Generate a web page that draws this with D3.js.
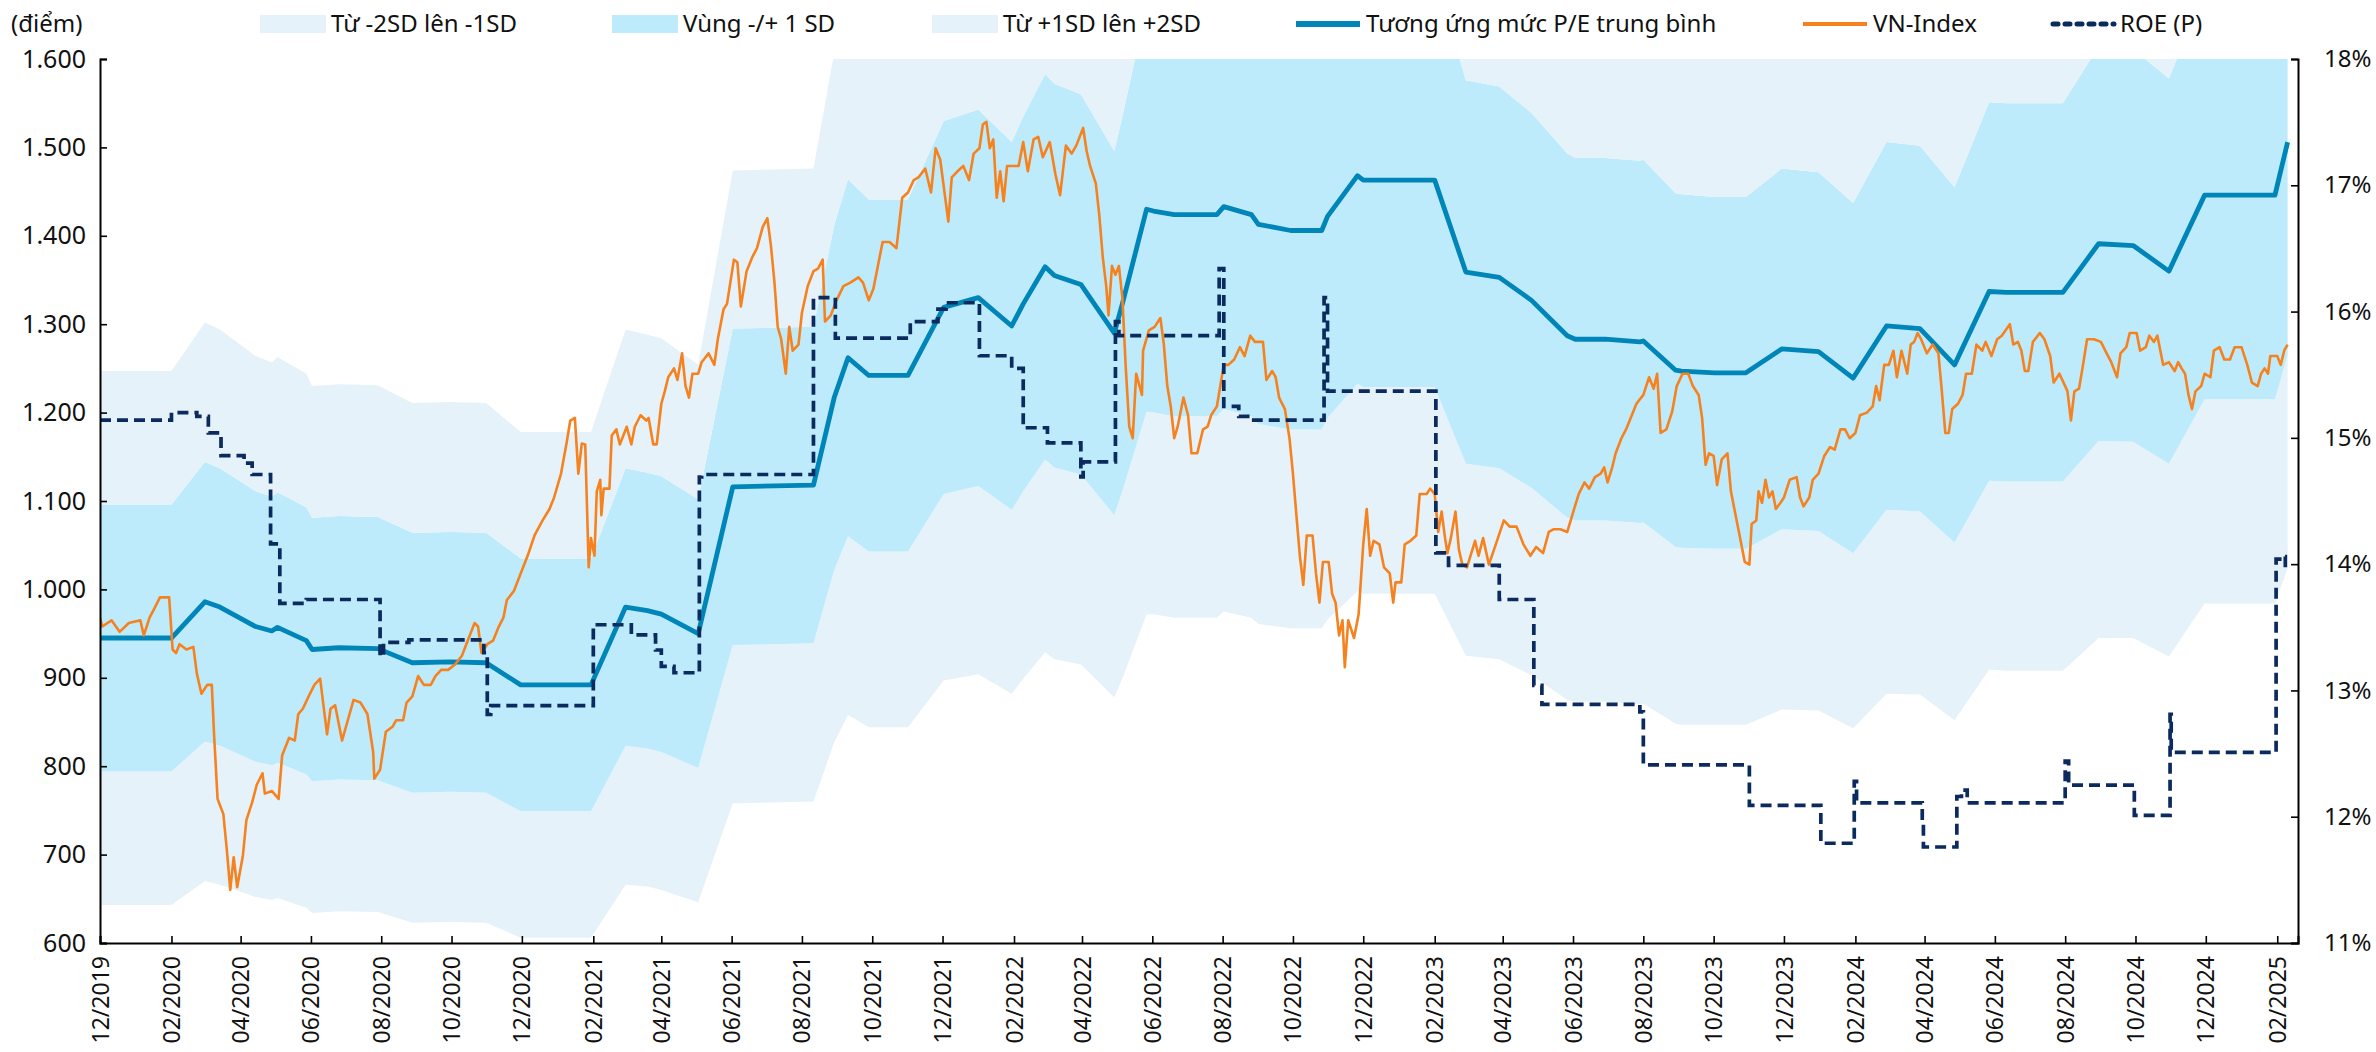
<!DOCTYPE html>
<html>
<head>
<meta charset="utf-8">
<script src="https://cdn.jsdelivr.net/npm/d3@7"></script>
<style>
  body { margin: 0; background: #fff; }
  svg { display: block; font-family: "Noto Sans", sans-serif; }
</style>
</head>
<body>
<svg id="chart" width="2376" height="1052"></svg>
<script>
// VN-Index (daily at ~weekly resolution)
var vnIndex = [
["2019-12-01",968],["2019-12-03",958],["2019-12-11",965],["2019-12-18",952],["2019-12-26",962],
["2020-01-05",965],["2020-01-08",948],["2020-01-13",968],["2020-01-17",978],["2020-01-22",991],["2020-01-30",991],
["2020-02-02",932],["2020-02-05",928],["2020-02-08",938],["2020-02-14",932],["2020-02-20",935],["2020-02-23",905],["2020-02-27",882],
["2020-03-03",892],["2020-03-07",892],["2020-03-09",835],["2020-03-12",763],["2020-03-17",746],["2020-03-20",706],["2020-03-23",660],["2020-03-26",697],["2020-03-29",663],
["2020-04-03",699],["2020-04-06",739],["2020-04-11",759],["2020-04-15",779],["2020-04-20",792],["2020-04-22",769],["2020-04-28",772],
["2020-05-04",763],["2020-05-07",812],["2020-05-13",832],["2020-05-18",829],["2020-05-21",859],["2020-05-25",865],["2020-05-30",879],
["2020-06-04",892],["2020-06-09",899],["2020-06-15",836],["2020-06-18",865],["2020-06-22",869],["2020-06-28",829],
["2020-07-03",852],["2020-07-08",875],["2020-07-14",872],["2020-07-20",859],["2020-07-25",816],["2020-07-26",786],["2020-07-31",796],
["2020-08-05",839],["2020-08-11",845],["2020-08-14",852],["2020-08-20",852],["2020-08-23",872],["2020-08-28",879],
["2020-09-02",902],["2020-09-07",892],["2020-09-13",892],["2020-09-17",902],["2020-09-22",909],["2020-09-28",909],
["2020-10-04",915],["2020-10-10",925],["2020-10-15",942],["2020-10-21",962],["2020-10-24",958],["2020-10-27",928],
["2020-11-01",938],["2020-11-06",942],["2020-11-11",958],["2020-11-15",968],["2020-11-18",988],["2020-11-24",998],["2020-11-30",1018],
["2020-12-06",1038],["2020-12-12",1061],["2020-12-19",1078],["2020-12-25",1091],["2020-12-29",1104],
["2021-01-04",1131],["2021-01-09",1167],["2021-01-12",1191],["2021-01-16",1194],["2021-01-19",1131],["2021-01-22",1165],["2021-01-25",1164],["2021-01-28",1025],["2021-01-30",1058],
["2021-02-02",1038],["2021-02-04",1111],["2021-02-07",1124],["2021-02-08",1084],["2021-02-10",1114],["2021-02-15",1114],["2021-02-17",1174],["2021-02-21",1181],["2021-02-24",1164],
["2021-03-02",1184],["2021-03-06",1164],["2021-03-09",1184],["2021-03-14",1197],["2021-03-19",1191],["2021-03-21",1194],["2021-03-25",1164],["2021-03-28",1164],
["2021-04-01",1210],["2021-04-04",1224],["2021-04-07",1240],["2021-04-12",1250],["2021-04-15",1237],["2021-04-19",1267],["2021-04-22",1230],["2021-04-25",1217],["2021-04-28",1244],
["2021-05-03",1244],["2021-05-06",1257],["2021-05-12",1267],["2021-05-17",1254],["2021-05-20",1283],["2021-05-25",1317],["2021-05-28",1323],
["2021-06-03",1373],["2021-06-06",1370],["2021-06-09",1320],["2021-06-14",1360],["2021-06-19",1376],["2021-06-23",1386],["2021-06-28",1410],
["2021-07-02",1420],["2021-07-05",1390],["2021-07-08",1350],["2021-07-11",1297],["2021-07-14",1283],["2021-07-18",1244],["2021-07-21",1297],["2021-07-24",1270],["2021-07-29",1277],
["2021-08-01",1313],["2021-08-06",1343],["2021-08-11",1360],["2021-08-15",1363],["2021-08-19",1373],["2021-08-21",1303],["2021-08-26",1310],["2021-08-31",1327],
["2021-09-06",1343],["2021-09-12",1347],["2021-09-19",1353],["2021-09-23",1347],["2021-09-28",1327],
["2021-10-02",1340],["2021-10-05",1360],["2021-10-10",1393],["2021-10-16",1393],["2021-10-22",1386],["2021-10-27",1443],
["2021-11-01",1449],["2021-11-06",1463],["2021-11-10",1466],["2021-11-16",1476],["2021-11-21",1449],["2021-11-25",1499],["2021-11-29",1486],
["2021-12-03",1446],["2021-12-06",1416],["2021-12-09",1466],["2021-12-14",1473],["2021-12-19",1479],["2021-12-24",1463],["2021-12-28",1493],
["2022-01-02",1499],["2022-01-05",1526],["2022-01-08",1529],["2022-01-11",1499],["2022-01-14",1509],["2022-01-17",1443],["2022-01-20",1473],["2022-01-23",1439],["2022-01-26",1479],
["2022-02-05",1479],["2022-02-09",1506],["2022-02-13",1473],["2022-02-18",1509],["2022-02-22",1512],["2022-02-26",1489],
["2022-03-04",1506],["2022-03-09",1469],["2022-03-13",1446],["2022-03-18",1502],["2022-03-23",1493],["2022-03-27",1502],
["2022-04-02",1522],["2022-04-05",1496],["2022-04-08",1479],["2022-04-13",1459],["2022-04-16",1423],["2022-04-19",1376],["2022-04-22",1343],["2022-04-24",1310],["2022-04-27",1366],["2022-04-30",1356],
["2022-05-03",1366],["2022-05-06",1330],["2022-05-09",1250],["2022-05-12",1184],["2022-05-15",1171],["2022-05-18",1244],["2022-05-23",1220],["2022-05-24",1270],["2022-05-29",1293],
["2022-06-03",1297],["2022-06-08",1307],["2022-06-11",1277],["2022-06-14",1230],["2022-06-17",1207],["2022-06-20",1171],["2022-06-23",1184],["2022-06-28",1217],
["2022-07-02",1197],["2022-07-05",1154],["2022-07-10",1154],["2022-07-15",1181],["2022-07-19",1184],["2022-07-22",1197],["2022-07-27",1207],
["2022-08-02",1254],["2022-08-06",1254],["2022-08-11",1260],["2022-08-16",1274],["2022-08-20",1264],["2022-08-25",1287],["2022-08-29",1280],
["2022-09-05",1280],["2022-09-08",1237],["2022-09-13",1247],["2022-09-16",1240],["2022-09-19",1217],["2022-09-24",1204],["2022-09-28",1171],
["2022-10-01",1131],["2022-10-04",1084],["2022-10-07",1038],["2022-10-10",1005],["2022-10-13",1061],["2022-10-18",1061],["2022-10-21",1018],["2022-10-24",985],["2022-10-27",1031],
["2022-11-01",1031],["2022-11-04",995],["2022-11-07",985],["2022-11-10",948],["2022-11-13",965],["2022-11-15",912],["2022-11-18",965],["2022-11-23",945],["2022-11-27",972],
["2022-12-01",1051],["2022-12-04",1091],["2022-12-07",1038],["2022-12-10",1055],["2022-12-15",1051],["2022-12-19",1025],["2022-12-24",1018],["2022-12-27",985],["2022-12-29",1008],
["2023-01-03",1008],["2023-01-06",1051],["2023-01-11",1055],["2023-01-16",1061],["2023-01-19",1108],["2023-01-25",1108],["2023-01-28",1114],
["2023-02-01",1108],["2023-02-04",1065],["2023-02-07",1088],["2023-02-10",1058],["2023-02-12",1041],["2023-02-15",1058],["2023-02-19",1088],["2023-02-22",1045],["2023-02-25",1028],
["2023-03-01",1025],["2023-03-08",1055],["2023-03-11",1038],["2023-03-15",1058],["2023-03-20",1028],["2023-03-26",1051],
["2023-04-02",1078],["2023-04-07",1071],["2023-04-13",1071],["2023-04-19",1051],["2023-04-25",1038],["2023-04-30",1048],
["2023-05-06",1041],["2023-05-11",1065],["2023-05-15",1068],["2023-05-21",1068],["2023-05-27",1065],
["2023-06-02",1091],["2023-06-06",1108],["2023-06-11",1121],["2023-06-15",1114],["2023-06-20",1127],["2023-06-25",1131],["2023-06-28",1138],
["2023-07-01",1121],["2023-07-05",1138],["2023-07-08",1154],["2023-07-13",1171],["2023-07-17",1181],["2023-07-22",1197],["2023-07-26",1210],
["2023-08-01",1220],["2023-08-06",1240],["2023-08-10",1227],["2023-08-13",1244],["2023-08-16",1177],["2023-08-21",1181],["2023-08-26",1201],["2023-08-30",1230],
["2023-09-04",1244],["2023-09-09",1244],["2023-09-13",1230],["2023-09-18",1220],["2023-09-21",1194],["2023-09-24",1141],["2023-09-27",1154],
["2023-10-01",1151],["2023-10-04",1118],["2023-10-08",1147],["2023-10-13",1154],["2023-10-16",1111],["2023-10-19",1091],["2023-10-24",1058],["2023-10-28",1031],
["2023-11-01",1028],["2023-11-03",1074],["2023-11-07",1078],["2023-11-09",1111],["2023-11-12",1098],["2023-11-15",1124],["2023-11-18",1104],["2023-11-21",1111],["2023-11-24",1091],["2023-11-28",1098],
["2023-12-01",1104],["2023-12-06",1124],["2023-12-12",1127],["2023-12-15",1104],["2023-12-18",1094],["2023-12-23",1104],["2023-12-26",1124],["2023-12-31",1131],
["2024-01-05",1151],["2024-01-10",1161],["2024-01-14",1158],["2024-01-19",1181],["2024-01-23",1181],["2024-01-27",1171],
["2024-02-01",1177],["2024-02-05",1197],["2024-02-11",1200],["2024-02-16",1207],["2024-02-19",1230],["2024-02-22",1214],["2024-02-26",1254],
["2024-03-01",1254],["2024-03-05",1270],["2024-03-08",1240],["2024-03-12",1270],["2024-03-17",1244],["2024-03-20",1277],["2024-03-23",1280],["2024-03-26",1290],["2024-03-29",1283],
["2024-04-03",1267],["2024-04-08",1277],["2024-04-13",1267],["2024-04-16",1224],["2024-04-19",1177],["2024-04-22",1177],["2024-04-25",1204],["2024-04-30",1210],
["2024-05-04",1220],["2024-05-07",1244],["2024-05-12",1244],["2024-05-16",1277],["2024-05-21",1270],["2024-05-24",1280],["2024-05-29",1264],
["2024-06-03",1283],["2024-06-07",1287],["2024-06-14",1300],["2024-06-17",1277],["2024-06-21",1280],["2024-06-24",1270],["2024-06-27",1247],["2024-06-30",1247],
["2024-07-04",1280],["2024-07-10",1290],["2024-07-14",1283],["2024-07-19",1264],["2024-07-22",1234],["2024-07-27",1244],
["2024-08-01",1230],["2024-08-03",1224],["2024-08-06",1191],["2024-08-09",1224],["2024-08-13",1227],["2024-08-16",1250],["2024-08-20",1283],["2024-08-26",1283],
["2024-09-01",1280],["2024-09-06",1267],["2024-09-10",1257],["2024-09-15",1240],["2024-09-18",1267],["2024-09-23",1274],["2024-09-26",1290],
["2024-10-02",1290],["2024-10-05",1270],["2024-10-10",1274],["2024-10-13",1287],["2024-10-17",1280],["2024-10-20",1287],["2024-10-25",1254],["2024-10-30",1257],
["2024-11-04",1247],["2024-11-07",1257],["2024-11-10",1250],["2024-11-13",1244],["2024-11-16",1220],["2024-11-19",1204],["2024-11-22",1224],["2024-11-27",1230],["2024-11-30",1244],
["2024-12-05",1240],["2024-12-08",1270],["2024-12-13",1274],["2024-12-17",1260],["2024-12-22",1260],["2024-12-26",1274],
["2025-01-01",1274],["2025-01-06",1254],["2025-01-10",1234],["2025-01-15",1230],["2025-01-18",1244],["2025-01-21",1250],["2025-01-24",1244],["2025-01-26",1264],
["2025-02-01",1264],["2025-02-04",1254],["2025-02-07",1270],["2025-02-10",1277]
];

// index level matching the average P/E, and one standard deviation, at each node
var peDates = ["2019-12-01","2020-02-01","2020-03-01","2020-03-14","2020-04-14","2020-04-28","2020-05-03","2020-05-28","2020-06-02","2020-06-25","2020-07-29","2020-08-28","2020-09-30","2020-10-31","2020-11-30",
  "2021-01-30","2021-03-01","2021-03-20","2021-04-01","2021-05-03","2021-06-02","2021-08-11","2021-08-29","2021-09-10","2021-09-28","2021-11-01","2021-12-02",
  "2022-01-01","2022-01-30","2022-02-09","2022-02-28","2022-03-08","2022-03-31","2022-04-29","2022-05-06","2022-05-27","2022-06-02","2022-06-20","2022-07-27","2022-08-02","2022-08-26","2022-09-01","2022-09-29","2022-10-26","2022-10-31","2022-11-26","2022-12-01",
  "2023-02-01","2023-02-28","2023-03-29","2023-04-26","2023-05-27","2023-06-03","2023-06-29","2023-07-29","2023-08-01","2023-08-29","2023-09-03","2023-10-02","2023-10-29","2023-11-29","2023-12-31",
  "2024-01-30","2024-02-28","2024-03-28","2024-04-27","2024-05-27","2024-06-11","2024-07-30","2024-08-30","2024-09-29","2024-10-30","2024-11-30","2025-01-30","2025-02-10"];
var peMean = [945,945,986,980,958,953,957,942,932,934,933,917,918,917,892,
  892,980,976,972,950,1116,1118,1217,1262,1242,1242,1319,
  1330,1298,1323,1365,1355,1345,1290,1323,1430,1428,1424,1424,1433,1424,1413,1406,1406,1422,1468,1463,
  1463,1359,1353,1327,1287,1283,1283,1280,1281,1248,1247,1245,1245,1272,1269,
  1239,1298,1295,1254,1337,1336,1336,1391,1389,1360,1446,1446,1506];
var peSd = [151,151,158,157,153,152,153,151,149,149,149,147,147,147,143,
  143,157,156,156,152,179,179,195,202,199,199,211,
  213,208,212,218,217,215,206,212,229,228,228,228,229,228,226,225,225,228,235,234,
  234,217,216,212,206,205,205,205,205,200,200,199,199,204,203,
  198,208,207,201,214,214,214,223,222,218,231,231,241];

// ROE (P), % - change points, each value holds until the next date
var roeDates = ["2019-12-01","2020-02-01","2020-02-23","2020-03-04","2020-03-15","2020-04-04","2020-04-11","2020-04-27","2020-05-05","2020-05-28","2020-07-31","2020-08-03","2020-08-25","2020-10-29","2020-11-01","2020-11-04",
  "2021-02-01","2021-03-06","2021-03-27","2021-04-01","2021-04-12","2021-05-04","2021-05-06","2021-08-11","2021-08-30","2021-11-03","2021-11-27","2021-12-04",
  "2022-01-02","2022-01-30","2022-02-09","2022-03-02","2022-03-31","2022-04-02","2022-04-30","2022-05-03","2022-07-29","2022-08-02","2022-08-15","2022-08-28","2022-10-28","2022-10-31",
  "2023-02-02","2023-02-13","2023-03-29","2023-04-28","2023-05-05","2023-07-29","2023-08-01","2023-11-01",
  "2024-01-02","2024-01-31","2024-02-02","2024-03-30","2024-03-31","2024-04-29","2024-05-03","2024-05-08","2024-08-01","2024-08-04","2024-09-30","2024-10-31","2024-11-01",
  "2025-01-31","2025-02-05","2025-02-08","2025-02-10"];
var roeValues = [15.14,15.20,15.17,15.04,14.86,14.80,14.71,14.16,13.69,13.72,13.27,13.38,13.40,13.30,12.81,12.88,
  13.52,13.44,13.32,13.19,13.14,14.69,14.71,16.11,15.79,15.92,16.02,16.07,
  15.65,15.55,15.08,14.96,14.69,14.81,15.92,15.81,16.34,15.25,15.17,15.14,16.11,15.37,
  14.09,13.99,13.72,13.04,12.89,12.83,12.41,12.09,
  11.79,12.28,12.11,11.97,11.76,12.16,12.21,12.11,12.44,12.25,12.01,12.81,12.51,
  14.04,14.06,13.95,13.95];

var leftTicks = [600,700,800,900,1000,1100,1200,1300,1400,1500,1600];
var rightTicks = [11,12,13,14,15,16,17,18];
var legendLabels = ["Từ -2SD lên -1SD","Vùng -/+ 1 SD","Từ +1SD lên +2SD","Tương ứng mức P/E trung bình","VN-Index","ROE (P)"];

var lightBand = "#E6F2F9";
var midBand = "#BDEBFC";
var meanColor = "#0085B9";
var vnColor = "#F5821F";
var roeColor = "#0B2A5E";

var parse = d3.timeParse("%Y-%m-%d");
var plotL = 100, plotR = 2298, plotT = 59, plotB = 943;

var svg = d3.select("#chart");

var x = d3.scaleTime().domain([parse("2019-12-01"), parse("2025-02-19")]).range([plotL, plotR]);
var yL = d3.scaleLinear().domain([600, 1600]).range([plotB, plotT]);
var yR = d3.scaleLinear().domain([11, 18]).range([plotB, plotT]);

var pe = peDates.map(function(d, i){
  return {date: parse(d), mean: peMean[i], sd: peSd[i]};
});
var vn = vnIndex.map(function(d){ return {date: parse(d[0]), v: d[1]}; });
var roe = roeDates.map(function(d, i){ return {date: parse(d), v: roeValues[i]}; });

svg.append("clipPath").attr("id", "plot-clip")
  .append("rect").attr("x", plotL).attr("y", plotT).attr("width", plotR - plotL).attr("height", plotB - plotT);

var plot = svg.append("g").attr("clip-path", "url(#plot-clip)");

function band(k0, k1){
  return d3.area()
    .x(function(d){ return x(d.date); })
    .y0(function(d){ return yL(d.mean + k0 * d.sd); })
    .y1(function(d){ return yL(d.mean + k1 * d.sd); });
}

plot.append("path").datum(pe).attr("d", band(-2, -1)).attr("fill", lightBand);
plot.append("path").datum(pe).attr("d", band(-1, 1)).attr("fill", midBand);
plot.append("path").datum(pe).attr("d", band(1, 2)).attr("fill", lightBand);

plot.append("path").datum(pe)
  .attr("d", d3.line().x(function(d){ return x(d.date); }).y(function(d){ return yL(d.mean); }))
  .attr("fill", "none").attr("stroke", meanColor).attr("stroke-width", 4.8).attr("stroke-linejoin", "round");

plot.append("path").datum(vn)
  .attr("d", d3.line().x(function(d){ return x(d.date); }).y(function(d){ return yL(d.v); }))
  .attr("fill", "none").attr("stroke", vnColor).attr("stroke-width", 2.6).attr("stroke-linejoin", "round");

plot.append("path").datum(roe)
  .attr("d", d3.line().curve(d3.curveStepAfter).x(function(d){ return x(d.date); }).y(function(d){ return yR(d.v); }))
  .attr("fill", "none").attr("stroke", roeColor).attr("stroke-width", 3.7)
  .attr("stroke-dasharray", "11,6");

// axes
var viFormat = d3.formatLocale({decimal: ",", thousands: ".", grouping: [3], currency: ["", ""]}).format(",");

var gL = svg.append("g").attr("transform", "translate(" + plotL + ",0)")
  .call(d3.axisLeft(yL).tickValues(leftTicks).tickSize(-7).tickPadding(14).tickFormat(viFormat));
var gR = svg.append("g").attr("transform", "translate(" + plotR + ",0)")
  .call(d3.axisRight(yR).tickValues(rightTicks).tickSize(-7).tickPadding(26).tickFormat(function(d){ return d + "%"; }));
var xTicks = d3.timeMonth.range(parse("2019-12-01"), parse("2025-02-02"), 2);
var gB = svg.append("g").attr("transform", "translate(0," + plotB + ")")
  .call(d3.axisBottom(x).tickValues(xTicks).tickSize(-7).tickFormat(d3.timeFormat("%m/%Y")));

[gL, gR, gB].forEach(function(g){
  g.select(".domain").attr("stroke", "#000").attr("stroke-width", 2);
  g.selectAll(".tick line").attr("stroke", "#000").attr("stroke-width", 1.6);
  g.selectAll("text").attr("fill", "#111").style("font-family", "'Noto Sans', sans-serif");
});
gL.selectAll("text").style("font-size", "25px");
gR.selectAll("text").style("font-size", "24px");
gB.selectAll("text")
  .style("font-size", "23px")
  .attr("text-anchor", "end")
  .attr("dy", "0.35em")
  .attr("transform", "translate(0,13) rotate(-90)")
  .attr("x", 0).attr("y", 0);

// legend
var lg = svg.append("g").style("font-size", "24px").attr("fill", "#111");
lg.append("text").attr("x", 11).attr("y", 24).attr("dy", "0.35em").text("(điểm)");

var swatchX = [260, 612, 932];
var swatchFill = [lightBand, midBand, lightBand];
swatchX.forEach(function(sx, i){
  lg.append("rect").attr("x", sx).attr("y", 15).attr("width", 66).attr("height", 18).attr("fill", swatchFill[i]);
  lg.append("text").attr("x", sx + 71).attr("y", 24).attr("dy", "0.35em").text(legendLabels[i]);
});

var lineX = [1296, 1803, 2050];
var lineStyle = [
  {c: meanColor, w: 6, dash: null},
  {c: vnColor, w: 4, dash: null},
  {c: roeColor, w: 5, dash: "5,7"}
];
lineX.forEach(function(lx, i){
  var s = lineStyle[i];
  var l = lg.append("line").attr("x1", lx).attr("x2", lx + 64).attr("y1", 24).attr("y2", 24)
    .attr("stroke", s.c).attr("stroke-width", s.w);
  if (s.dash) l.attr("stroke-dasharray", s.dash).attr("stroke-linecap", "round").attr("x1", lx + 3);
  lg.append("text").attr("x", lx + 70).attr("y", 24).attr("dy", "0.35em").text(legendLabels[i + 3]);
});
</script>
</body>
</html>
